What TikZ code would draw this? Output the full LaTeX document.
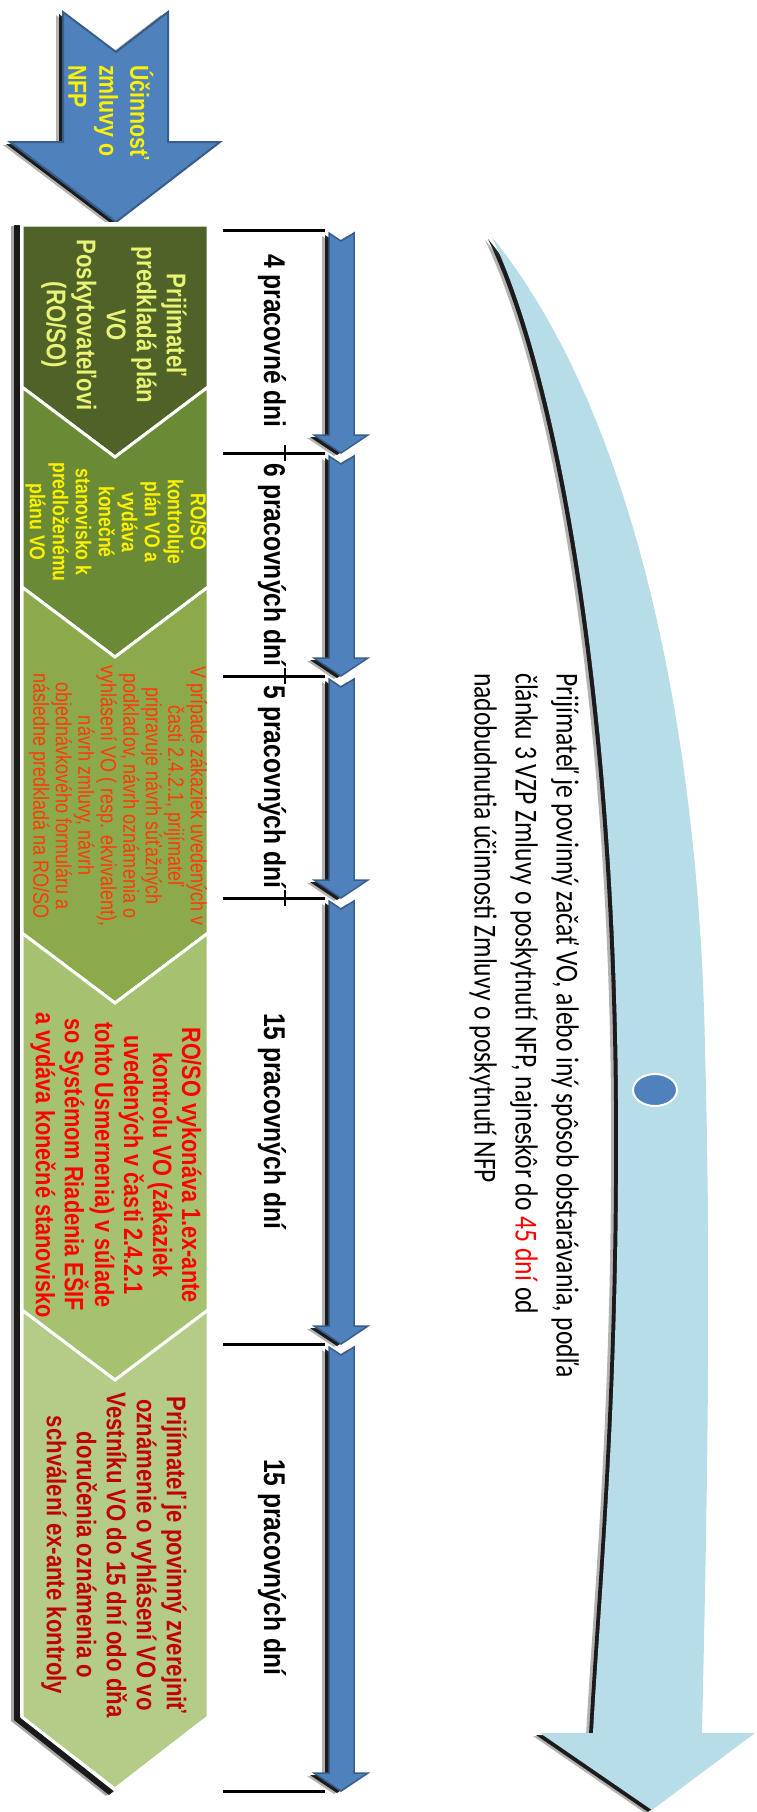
\documentclass[tikz,border=0pt]{standalone}
\usepackage{fontspec}
\usetikzlibrary{shapes.geometric,shadows}
\newfontfamily\narrowsf[FakeStretch=0.82]{Liberation Sans}
\newfontfamily\condsf[FakeStretch=0.8]{Carlito}

\definecolor{arrowblue}{HTML}{4F81BD}
\definecolor{arrowedge}{HTML}{385D8A}
\definecolor{skyblue}{HTML}{B7DDE8}
\definecolor{segA}{HTML}{4F6228}
\definecolor{segB}{HTML}{6A8A35}
\definecolor{segC}{HTML}{8CAA4B}
\definecolor{segD}{HTML}{A6C270}
\definecolor{segE}{HTML}{B5CB88}
\definecolor{txtA}{HTML}{EAF474}
\definecolor{txtC}{HTML}{FF3A0A}
\definecolor{txtE}{HTML}{C00000}

\tikzset{
  shade1/.style={drop shadow={shadow xshift=-7pt,shadow yshift=-3pt,opacity=.3,fill=black},
                 drop shadow={shadow xshift=-4pt,shadow yshift=-2pt,opacity=.85,fill=black}},
  seg/.style={draw=white, line width=3pt},
  segtext/.style={rotate=-90, align=center, inner sep=0pt},
  days/.style={rotate=-90, inner sep=0pt, font=\narrowsf\bfseries\fontsize{30}{32}\selectfont},
  tarrow/.style={fill=arrowblue, draw=arrowedge, line width=1.5pt, shade1}
}

\begin{document}
\begin{tikzpicture}[x=1pt, y=-1pt]
\useasboundingbox (0,0) rectangle (757,1812);

% big arrow on the right
\fill[skyblue, shade1] (492,237) .. controls (560,380) and (615,700) .. (618,1100)
  .. controls (620,1400) and (600,1600) .. (593,1733) -- (540,1733) -- (652,1810)
  -- (755,1733) -- (702,1733) .. controls (706,1550) and (712,1300) .. (705,1050)
  .. controls (700,750) and (640,420) .. (492,237) -- cycle;
\node[ellipse, fill=arrowblue, draw=white, line width=2pt, minimum width=44pt, minimum height=32pt] (dot) at (655,1090) {};
\node[rotate=-90, anchor=north west, align=left, inner sep=0pt, font=\condsf\fontsize{32}{41}\selectfont] (rule) at (579,673)
  {Prijímateľ je povinný začať VO, alebo iný spôsob obstarávania, podľa\\
   článku 3 VZP Zmluvy o poskytnutí NFP, najneskôr do \textcolor{red}{45 dní} od\\
   nadobudnutia účinnosti Zmluvy o poskytnutí NFP};

% top arrow
\filldraw[fill=arrowblue, draw=arrowedge, line width=2pt, shade1] (63,12) -- (116,52) -- (168,12) -- (168,142)
  -- (220,142) -- (116,222) -- (10,142) -- (63,142) -- cycle;
\node[rotate=-90, anchor=west, align=left, inner sep=0pt, text=yellow, font=\narrowsf\bfseries\fontsize{26}{31}\selectfont] (start) at (111,65)
  {Účinnosť\\ zmluvy o\\ NFP};

% column of chevrons
\fill[white, drop shadow={shadow xshift=-9pt,shadow yshift=-4pt,opacity=.35,fill=black},
  drop shadow={shadow xshift=-6pt,shadow yshift=-3pt,opacity=.85,fill=black}]
  (20,222) -- (210,222) -- (210,1717) -- (115,1792) -- (20,1717) -- cycle;
\filldraw[seg, fill=segA] (22,225) -- (208,225) -- (208,387) -- (115,457) -- (22,387) -- cycle;
\filldraw[seg, fill=segB] (22,387) -- (115,457) -- (208,387) -- (208,587) -- (115,657) -- (22,587) -- cycle;
\filldraw[seg, fill=segC] (22,587) -- (115,657) -- (208,587) -- (208,933) -- (115,1003) -- (22,933) -- cycle;
\filldraw[seg, fill=segD] (22,933) -- (115,1003) -- (208,933) -- (208,1310) -- (115,1380) -- (22,1310) -- cycle;
\filldraw[seg, fill=segE] (22,1310) -- (115,1380) -- (208,1310) -- (208,1717) -- (115,1789) -- (22,1717) -- cycle;

\node[segtext, text=txtA, font=\narrowsf\bfseries\fontsize{27}{30}\selectfont] (s1) at (114,325)
  {Prijímateľ\\ predkladá plán\\ VO\\ Poskytovateľovi\\ (RO/SO)};
\node[segtext, text=yellow, font=\narrowsf\bfseries\fontsize{21.5}{23}\selectfont] (s2) at (116,522)
  {RO/SO\\ kontroluje\\ plán VO a\\ vydáva\\ konečné\\ stanovisko k\\ predloženému\\ plánu VO};
\node[segtext, text=txtC, font=\narrowsf\fontsize{22}{22.5}\selectfont] (s3) at (118,796)
  {V prípade zákaziek uvedených v\\ časti 2.4.2.1, prijímateľ\\ pripravuje návrh súťažných\\
   podkladov, návrh oznámenia o\\ vyhlásení VO ( resp. ekvivalent),\\ návrh zmluvy, návrh\\
   objednávkového formuláru a\\ následne predkladá na RO/SO};
\node[segtext, text=red, font=\narrowsf\bfseries\fontsize{26.5}{29}\selectfont] (s4) at (116,1165)
  {RO/SO vykonáva 1.ex-ante\\ kontrolu VO (zákaziek\\ uvedených v časti 2.4.2.1\\
   tohto Usmernenia) v súlade\\ so Systémom Riadenia EŠIF\\ a vydáva konečné stanovisko};
\node[segtext, text=txtE, font=\narrowsf\bfseries\fontsize{27}{30}\selectfont] (s5) at (114,1555)
  {Prijímateľ je povinný zverejniť\\ oznámenie o vyhlásení VO vo\\ Vestníku VO do 15 dní odo dňa\\
   doručenia oznámenia o\\ schválení ex-ante kontroly};

% time line
\foreach \y in {230,453,676,898,1344,1791}
  \draw[line width=3pt] (223,\y) -- (325,\y);
\foreach \y in {453,676,898}
  \draw[line width=2pt] (285,\y-8) -- (285,\y+8);
\foreach \a/\b in {230/453,453/676,676/898,898/1344,1344/1791}
  \filldraw[tarrow] (329,\a+3) -- (341,\a+11) -- (354,\a+3) -- (354,\b-18) -- (368,\b-18)
    -- (341,\b) -- (314,\b-18) -- (329,\b-18) -- cycle;

\node[days] (d1) at (272,341) {4 pracovné dni};
\node[days] (d2) at (272,565) {6 pracovných dní};
\node[days] (d3) at (272,787) {5 pracovných dní};
\node[days] (d4) at (272,1121) {15 pracovných dní};
\node[days] (d5) at (272,1567) {15 pracovných dní};
\end{tikzpicture}
\end{document}
